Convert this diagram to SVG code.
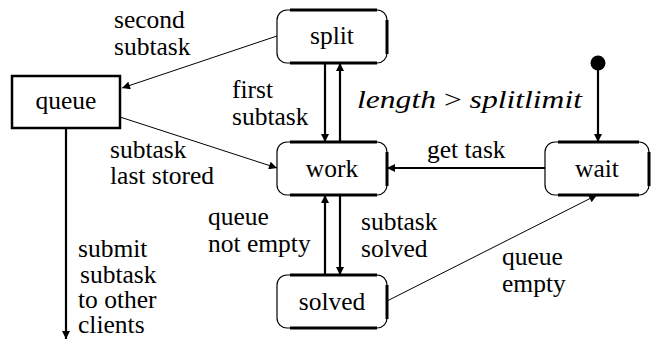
<svg xmlns="http://www.w3.org/2000/svg" width="651" height="340" viewBox="0 0 651 340" font-family="'Liberation Serif', 'Times New Roman', serif" font-size="25.5">
<style>
.lbl{text-anchor:middle}
.box{fill:#fff;stroke:#000;stroke-width:1.2}
.edge{stroke:#000;stroke-width:3;fill:none}
.thin{stroke:#000;stroke-width:1;fill:none}
.thick{stroke:#000;stroke-width:2.2;fill:none}
.math{font-style:italic}
</style>
<defs>
<marker id="ah" viewBox="0 0 10 10" refX="10" refY="5" markerWidth="9" markerHeight="8" markerUnits="userSpaceOnUse" orient="auto">
<path d="M0,0 L10,5 L0,10 z" fill="#000"/>
</marker>
</defs>
<g id="connectors">
<line class="thin" x1="277" y1="36" x2="122" y2="88" marker-end="url(#ah)"/>
<line class="thin" x1="120" y1="117" x2="277" y2="168" marker-end="url(#ah)"/>
<line class="thick" x1="325" y1="63" x2="325" y2="142" marker-end="url(#ah)"/>
<line class="thick" x1="340" y1="142" x2="340" y2="63" marker-end="url(#ah)"/>
<line class="thick" x1="340" y1="195" x2="340" y2="275" marker-end="url(#ah)"/>
<line class="thick" x1="325" y1="275" x2="325" y2="195" marker-end="url(#ah)"/>
<line class="thick" x1="545" y1="168" x2="387" y2="168" marker-end="url(#ah)"/>
<line class="thin" x1="387" y1="301" x2="597" y2="195" marker-end="url(#ah)"/>
<line class="thick" x1="598" y1="63" x2="598" y2="142" marker-end="url(#ah)"/>
<line class="thick" x1="66" y1="128" x2="66" y2="339" marker-end="url(#ah)"/>
<circle cx="598" cy="63" r="7.5" fill="#000"/>
<text x="114" y="28">second</text>
<text x="114" y="55">subtask</text>
<text x="232" y="98">first</text>
<text x="232" y="125">subtask</text>
<text x="110" y="158">subtask</text>
<text x="110" y="184">last stored</text>
<text x="357" y="108" textLength="225" lengthAdjust="spacingAndGlyphs"><tspan class="math">length</tspan> &gt; <tspan class="math">splitlimit</tspan></text>
<text x="427" y="158">get task</text>
<text x="208" y="225">queue</text>
<text x="208" y="252">not empty</text>
<text x="361" y="230">subtask</text>
<text x="361" y="257">solved</text>
<text x="502" y="265">queue</text>
<text x="502" y="292">empty</text>
<text x="78" y="257">submit</text>
<text x="80" y="283">subtask</text>
<text x="78" y="308">to other</text>
<text x="78" y="333">clients</text>
</g>
<g id="split">
<rect class="box" x="277" y="10" width="110" height="53" rx="10"/>
<path class="edge" d="M290,10 H377 M387,20 V54 M290,63 H377"/>
<text class="lbl" x="332" y="44">split</text>
</g>
<g id="work">
<rect class="box" x="277" y="142" width="110" height="53" rx="10"/>
<path class="edge" d="M290,142 H377 M387,152 V186 M290,195 H377"/>
<text class="lbl" x="332" y="177">work</text>
</g>
<g id="solved">
<rect class="box" x="277" y="275" width="110" height="53" rx="10"/>
<path class="edge" d="M290,275 H377 M387,285 V319 M290,328 H377"/>
<text class="lbl" x="332" y="310">solved</text>
</g>
<g id="wait">
<rect class="box" x="545" y="142" width="104" height="53" rx="10"/>
<path class="edge" d="M558,142 H639 M649,152 V186 M558,195 H639"/>
<text class="lbl" x="597" y="177">wait</text>
</g>
<g id="queue">
<rect x="12" y="76" width="108" height="52" fill="#fff" stroke="#000" stroke-width="2.5"/>
<text class="lbl" x="66" y="109">queue</text>
</g>
</svg>
